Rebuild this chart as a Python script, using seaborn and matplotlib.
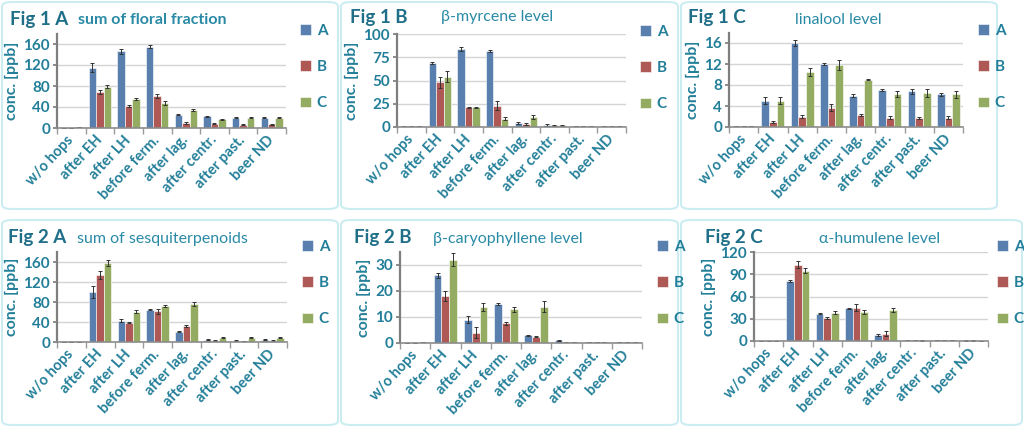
import numpy as np
import pandas as pd
import matplotlib.pyplot as plt
import seaborn as sns
from matplotlib.patches import FancyBboxPatch

# dane
stages = ['w/o hops', 'after EH', 'after LH', 'before ferm.', 'after lag.',
          'after centr.', 'after past.', 'beer ND']
series = ['A', 'B', 'C']

floral = [[0, 115, 146, 155, 25, 22, 20, 20],
          [0, 68, 42, 61, 10, 8, 6, 7],
          [1, 79, 56, 47, 34, 17, 20, 20]]
floral_err = [[0, 8, 5, 3, 1, 1, 1, 1],
              [0, 4, 2, 4, 2, 1, 1, 1],
              [0, 3, 2, 4, 2, 1, 1, 1]]

myrcene = [[0.6, 69, 84, 82, 4, 2.5, 0.6, 0.6],
           [0.6, 48, 21, 23, 3, 2, 0.6, 0.6],
           [0.6, 54, 21, 9, 11, 2, 0.6, 0.6]]
myrcene_err = [[0, 1, 2, 1, 1, 1, 0, 0],
               [0, 6, 1, 5, 1, 0.5, 0, 0],
               [0, 6, 1, 2, 2, 0.5, 0, 0]]

linalool = [[0.1, 5.0, 16.0, 12.0, 6.0, 7.0, 6.8, 6.2],
            [0.1, 1.0, 2.0, 3.7, 2.3, 1.8, 1.8, 1.8],
            [0.1, 5.0, 10.5, 11.8, 9.0, 6.3, 6.5, 6.2]]
linalool_err = [[0, 0.7, 0.6, 0.2, 0.2, 0.2, 0.5, 0.2],
                [0, 0.2, 0.3, 0.6, 0.2, 0.3, 0.2, 0.3],
                [0, 0.7, 0.7, 0.9, 0.1, 0.5, 0.8, 0.7]]

sesqui = [[0, 100, 43, 65, 21, 5, 3, 5],
          [0, 135, 39, 62, 32, 3, 2, 3],
          [0, 158, 61, 72, 77, 9, 9, 9]]
sesqui_err = [[0, 12, 3, 1, 1, 1, 0.5, 1],
              [0, 8, 1, 5, 2, 0.5, 0.5, 0.5],
              [0, 6, 3, 2, 4, 1, 1, 1]]

caryo = [[0, 26, 9, 15, 3, 1, 0.3, 0.3],
         [0, 18, 4, 7.6, 2.5, 0.3, 0.3, 0.3],
         [0.3, 32, 14, 13, 14, 0.3, 0.3, 0.3]]
caryo_err = [[0, 1, 1.2, 0.3, 0.2, 0.2, 0, 0],
             [0, 2, 2, 0.6, 0.2, 0, 0, 0],
             [0, 2.5, 1.5, 1, 2, 0, 0, 0]]

humulene = [[0, 81, 37, 44, 8, 1.5, 1, 0.8],
            [0, 103, 31, 45, 10, 1, 1, 0.8],
            [0, 95, 38, 39, 42, 0.8, 1, 0]]
humulene_err = [[0, 1, 1, 1, 1, 0.3, 0.3, 0.2],
                [0, 5, 2, 5, 3, 0.3, 0.3, 0.2],
                [0, 3, 2, 3, 3, 0.2, 0.3, 0]]

colors = ['#4a7ebb', '#be4b48', '#98b954']
teal = '#237f99'
fonts = ['Lato', 'DejaVu Sans']

sns.set_theme(style='white')
plt.rcParams['font.family'] = fonts

W, H = 1024, 428
fig = plt.figure(figsize=(W / 100, H / 100), dpi=100)

# ramki paneli (px: x, y od gory, szer, wys)
boxes = [(2, 2, 336, 207), (341, 2, 337, 207), (681, 2, 316, 207),
         (2, 220, 336, 205), (341, 220, 337, 205), (681, 220, 341, 205)]
for bx, by, bw, bh in boxes:
    fig.patches.append(FancyBboxPatch(
        (bx / W, 1 - (by + bh) / H), bw / W, bh / H,
        boxstyle='round,pad=0,rounding_size=0.01', transform=fig.transFigure,
        facecolor='none', edgecolor='#cbedf2', linewidth=1.5, zorder=-1))

# panele: dane, bledy, ylim, yticks, osie (px), fig label, tytul, legenda
panels = [
    (floral, floral_err, 180, [0, 40, 80, 120, 160], (57, 286, 33.5, 128),
     'Fig 1 A', (10, 19), 'sum of floral fraction', (152, 20), 'bold', (300, 31)),
    (myrcene, myrcene_err, 100, [0, 25, 50, 75, 100], (397, 626, 34, 127),
     'Fig 1 B', (350, 18), 'β-myrcene level', (497, 17), 'normal', (640, 32)),
    (linalool, linalool_err, 18, [0, 4, 8, 12, 16], (729, 963, 32.5, 127),
     'Fig 1 C', (688, 18), 'linalool level', (838, 20), 'normal', (978, 31)),
    (sesqui, sesqui_err, 180, [0, 40, 80, 120, 160], (57, 287, 252, 342),
     'Fig 2 A', (8, 238), 'sum of sesquiterpenoids', (162, 239), 'normal', (302, 247)),
    (caryo, caryo_err, 35, [0, 10, 20, 30], (400, 642, 252, 343),
     'Fig 2 B', (354, 237), 'β-caryophyllene level', (508, 239), 'normal', (657, 247)),
    (humulene, humulene_err, 120, [0, 30, 60, 90, 120], (754, 988, 252, 341),
     'Fig 2 C', (705, 237), 'α-humulene level', (880, 239), 'normal', (997, 247)),
]

for vals, errs, ymax, yticks, (l, r, t, b), flab, fpos, title, tpos, tw, lpos in panels:
    ax = fig.add_axes([l / W, 1 - b / H, (r - l) / W, (b - t) / H])
    ax.patch.set_alpha(0)
    df = pd.DataFrame({
        'stage': np.tile(stages, 3),
        'series': np.repeat(series, len(stages)),
        'value': np.concatenate(vals),
    })
    sns.barplot(data=df, x='stage', y='value', hue='series', palette=colors,
                errorbar=None, width=0.78, ax=ax, legend=False,
                edgecolor='white', linewidth=0.4)
    for cont, err in zip(ax.containers, errs):
        xs = [p.get_x() + p.get_width() / 2 for p in cont]
        ys = [p.get_height() for p in cont]
        ax.errorbar(xs, ys, yerr=err, fmt='none', ecolor='#333333',
                    elinewidth=0.7, capsize=1.5, capthick=0.7)
    ax.set_xlim(-0.5, len(stages) - 0.5)
    ax.set_ylim(0, ymax)
    ax.set_yticks(yticks)
    ax.yaxis.grid(True, color='#d4d4d4', linewidth=1)
    ax.set_axisbelow(True)
    for s in ['top', 'right']:
        ax.spines[s].set_visible(False)
    ax.spines['left'].set_color('#7f7f7f')
    ax.spines['left'].set_linewidth(1.6)
    ax.spines['bottom'].set_color('#8c8c8c')
    ax.spines['bottom'].set_linewidth(1.2)
    ax.set_xticks(np.arange(-0.5, len(stages), 1), minor=True)
    ax.tick_params(axis='x', which='major', length=0, pad=7)
    ax.tick_params(axis='x', which='minor', length=4, color='#9a9a9a',
                   direction='out', bottom=True)
    ax.tick_params(axis='y', length=3, color='#7f7f7f', direction='out',
                   left=True, pad=2)
    ax.set_xticks(range(len(stages)))
    ax.set_xticklabels(stages, rotation=47, ha='right', va='center',
                       rotation_mode='anchor', fontsize=10.5, fontweight='bold',
                       color=teal)
    for lab in ax.get_yticklabels():
        lab.set_fontsize(11)
        lab.set_fontweight('bold')
        lab.set_color(teal)
    ax.set_xlabel('')
    ax.set_ylabel('conc. [ppb]', fontsize=11.5, fontweight='bold', color=teal,
                  labelpad=3)

    fig.text(fpos[0] / W, 1 - fpos[1] / H, flab, fontsize=13.5, fontweight='bold',
             color='#1f6f88', ha='left', va='center')
    fig.text(tpos[0] / W, 1 - tpos[1] / H, title, fontsize=11.5, fontweight=tw,
             color='#2a8aa5', ha='center', va='center')

    leg = ax.legend(ax.containers, series, loc='upper left',
                    bbox_to_anchor=(lpos[0] / W, 1 - (lpos[1] - 7) / H),
                    bbox_transform=fig.transFigure, frameon=False,
                    borderpad=0, borderaxespad=0, handlelength=0.7,
                    handleheight=0.7, handletextpad=0.4, labelspacing=1.45,
                    prop={'size': 11, 'weight': 'bold'})
    for txt in leg.get_texts():
        txt.set_color(teal)

fig.savefig('out.png', dpi=100)
